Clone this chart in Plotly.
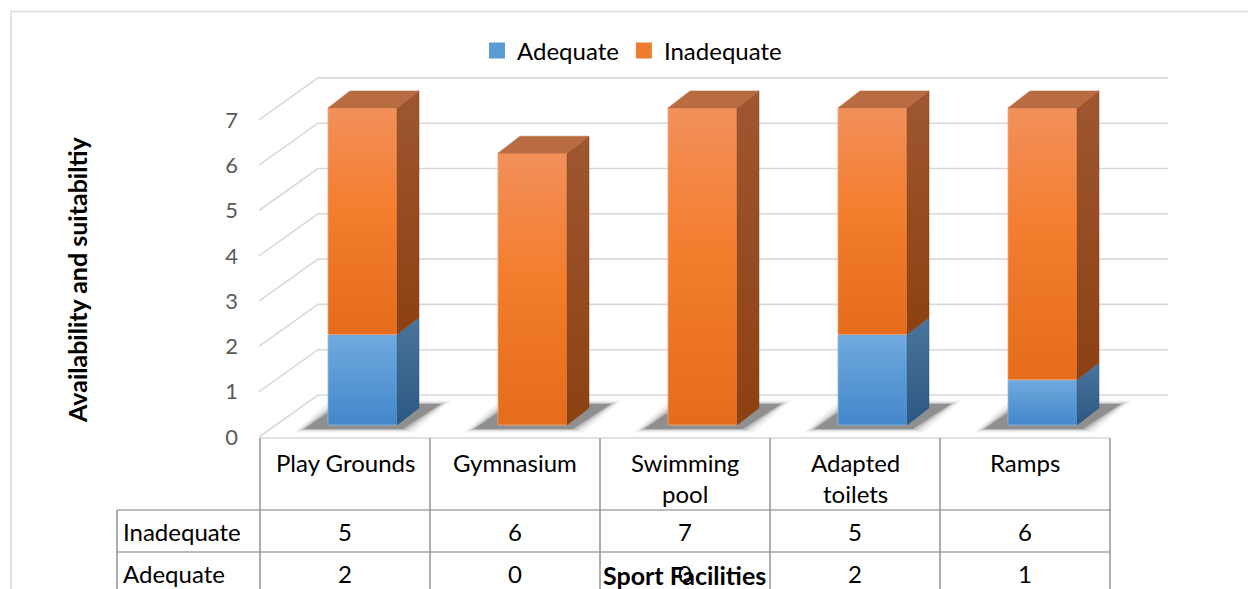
import plotly.graph_objects as go

# ---------------- data ----------------
categories = ["Play Grounds", "Gymnasium", "Swimming pool", "Adapted toilets", "Ramps"]
category_labels = ["Play Grounds", "Gymnasium", "Swimming<br>pool", "Adapted<br>toilets", "Ramps"]
series_names = ["Adequate", "Inadequate"]
adequate = [2, 0, 0, 2, 1]
inadequate = [5, 6, 7, 5, 6]
y_ticks = [0, 1, 2, 3, 4, 5, 6, 7]
x_title = "Sport Facilities"
y_title = "Availability and suitabiltiy"

# ---------------- geometry (pixels of the 3-D frame) ----------------
W, H = 1248, 589
FONT = "Lato"
CAT0_PX, CAT_STEP_PX = 345.0, 170.0      # table column centres
BASE_PY, UNIT_PY = 425.0, 45.3           # bar front plane


def px_to_x(px):
    return (px - CAT0_PX) / CAT_STEP_PX


def dpx(d):
    return d / CAT_STEP_PX


def dpy(d):
    return d / UNIT_PY


def PX(px):
    return px / W


def PY(py):
    return 1 - py / H


X_RANGE = [px_to_x(0), px_to_x(W)]
Y_RANGE = [(BASE_PY - H) / UNIT_PY, BASE_PY / UNIT_PY]
LABEL_PY = 437.0                       # front edge (tick labels)
BACK_PY = 395.0                        # back wall, value 0
BAR_SHIFT = dpx(17.5)
BAR_W = dpx(69)
DEPTH_X = dpx(22)
DEPTH_V = dpy(17)

BLUE = dict(top="#72AADF", mid="#5B9BD5", bottom="#4386CA", edge="#8DBBE6",
            side_top="#4B759D", side_bottom="#2B5883", cap="#5A86B5", legend="#5B9BD5")
ORANGE = dict(top="#F2905B", mid="#F47D2E", bottom="#E46C1B", edge="#F6A676",
              side_top="#9E5731", side_bottom="#8D4112", cap="#B96B41", legend="#ED7D31")
PALETTES = {"Adequate": BLUE, "Inadequate": ORANGE}

fig = go.Figure()

# ---------------- bars (front faces) ----------------
n = len(categories)
bar_x = [i + BAR_SHIFT for i in range(n)]
for name, vals in zip(series_names, [adequate, inadequate]):
    pal = PALETTES[name]
    fig.add_trace(go.Bar(
        x=bar_x, y=vals, width=BAR_W, name=name, legendgroup=name, showlegend=False,
        marker=dict(color=pal["mid"], line=dict(width=0)),
        customdata=categories, hovertemplate="%{customdata}: %{y}<extra>" + name + "</extra>",
    ))

# ---------------- 3-D faces (derived from the same values) ----------------
for i in range(n):
    xl, xr = bar_x[i] - BAR_W / 2, bar_x[i] + BAR_W / 2
    segs = []
    bottom = 0
    for name, vals in zip(series_names, [adequate, inadequate]):
        v = vals[i]
        if v > 0:
            segs.append((bottom, bottom + v, PALETTES[name]))
            bottom += v
    for k, (v0, v1, pal) in enumerate(segs):
        # front face with vertical gradient
        fig.add_trace(go.Scatter(
            x=[xl, xr, xr, xl, xl], y=[v0, v0, v1, v1, v0], mode="lines", fill="toself",
            line=dict(color=pal["edge"], width=0.8),
            fillgradient=dict(type="vertical", start=v0, stop=v1,
                              colorscale=[[0, pal["bottom"]], [0.55, pal["mid"]], [1, pal["top"]]]),
            hoverinfo="skip", showlegend=False))
        # right side face
        fig.add_trace(go.Scatter(
            x=[xr, xr + DEPTH_X, xr + DEPTH_X, xr, xr],
            y=[v0, v0 + DEPTH_V, v1 + DEPTH_V, v1, v0], mode="lines", fill="toself",
            line=dict(color=pal["side_bottom"], width=0.5),
            fillgradient=dict(type="vertical", start=v0, stop=v1 + DEPTH_V,
                              colorscale=[[0, pal["side_bottom"]], [1, pal["side_top"]]]),
            hoverinfo="skip", showlegend=False))
        if k == len(segs) - 1:
            fig.add_trace(go.Scatter(
                x=[xl, xr, xr + DEPTH_X, xl + DEPTH_X, xl],
                y=[v1, v1, v1 + DEPTH_V, v1 + DEPTH_V, v1], mode="lines", fill="toself",
                fillcolor=pal["cap"], line=dict(color=pal["cap"], width=0.5),
                hoverinfo="skip", showlegend=False))

# ---------------- legend entries ----------------
for name in series_names:
    fig.add_trace(go.Scatter(
        x=[None], y=[None], yaxis="y2", mode="markers", name=name, legendgroup=name,
        marker=dict(symbol="square", size=16, color=PALETTES[name]["legend"]),
        hoverinfo="skip"))

shapes = []
# ---------------- back wall gridlines + side-wall diagonals ----------------
x_front, x_back, x_right = px_to_x(259), px_to_x(318), px_to_x(1168)
for v in y_ticks:
    yf = v + (BASE_PY - LABEL_PY) / UNIT_PY
    yb = v + (BASE_PY - BACK_PY) / UNIT_PY
    shapes.append(dict(type="path", xref="x", yref="y", layer="below",
                       path=f"M{x_front},{yf} L{x_back},{yb} L{x_right},{yb}",
                       line=dict(color="#D9D9D9", width=1.6)))

# ---------------- floor shadows (soft, layered) ----------------
for i in range(n):
    xl, xr = bar_x[i] - BAR_W / 2, bar_x[i] + BAR_W / 2
    for grow, op in [(10, 0.07), (6, 0.10), (3, 0.16), (0, 0.30)]:
        pts = [(xl - dpx(24 + grow), dpy(-4 - grow * 0.35)),
               (xr + dpx(6 + grow), dpy(-4 - grow * 0.35)),
               (xr + dpx(44 + grow), dpy(21 + grow * 0.35)),
               (xl + dpx(12 - grow), dpy(21 + grow * 0.35))]
        path = "M" + " L".join(f"{a},{b}" for a, b in pts) + " Z"
        shapes.append(dict(type="path", xref="x", yref="y", layer="below", path=path,
                           fillcolor="#262626", opacity=op, line=dict(width=0)))

# ---------------- data table ----------------
T_TOP, R1, R2, T_BOT = 438, 510, 552, 640
LEFT_PX = 117
shapes.append(dict(type="line", xref="x", yref="paper", x0=-0.5, x1=n - 0.5,
                   y0=PY(T_TOP), y1=PY(T_TOP), line=dict(color="#D9D9D9", width=1.6)))
for r in (R1, R2):
    shapes.append(dict(type="line", xref="paper", yref="paper", x0=PX(LEFT_PX),
                       x1=PX(CAT0_PX + CAT_STEP_PX * (n - 0.5)),
                       y0=PY(r), y1=PY(r), line=dict(color="#A6A6A6", width=1.6)))
for j in range(n + 1):
    shapes.append(dict(type="line", xref="x", yref="paper", x0=j - 0.5, x1=j - 0.5,
                       y0=PY(T_TOP), y1=PY(T_BOT), line=dict(color="#9A9A9A", width=1.6)))
shapes.append(dict(type="line", xref="paper", yref="paper", x0=PX(LEFT_PX), x1=PX(LEFT_PX),
                   y0=PY(R1), y1=PY(T_BOT), line=dict(color="#9A9A9A", width=1.6)))
# chart border
shapes.append(dict(type="rect", xref="paper", yref="paper", x0=PX(11), x1=PX(1260),
                   y0=PY(640), y1=PY(11.5), line=dict(color="#D9D9D9", width=1.5)))

annotations = []
tfont = dict(family=FONT, size=24, color="#000000")
for i, lab in enumerate(category_labels):
    annotations.append(dict(x=i, y=PY(446), xref="x", yref="paper", text=lab, showarrow=False,
                            xanchor="center", yanchor="top", font=tfont))
for row_py, row_name, vals in [((R1 + R2) / 2, "Inadequate", inadequate),
                               ((R2 + 594) / 2, "Adequate", adequate)]:
    annotations.append(dict(x=PX(121), y=PY(row_py), xref="paper", yref="paper", text=row_name,
                            showarrow=False, xanchor="left", yanchor="middle", font=tfont))
    for i, v in enumerate(vals):
        annotations.append(dict(x=i, y=PY(row_py), xref="x", yref="paper", text=str(v),
                                showarrow=False, xanchor="center", yanchor="middle", font=tfont))
annotations.append(dict(x=PX(684), y=PY(575), xref="paper", yref="paper", text=x_title,
                        showarrow=False, xanchor="center", yanchor="middle",
                        font=dict(family=FONT, size=25, color="#000000", weight="bold")))
annotations.append(dict(x=PX(77), y=PY(280), xref="paper", yref="paper", text=y_title, textangle=-90,
                        showarrow=False, xanchor="center", yanchor="middle",
                        font=dict(family=FONT, size=25, color="#000000", weight="bold")))

fig.update_layout(
    width=W, height=H, autosize=False,
    margin=dict(l=0, r=0, t=0, b=0, pad=0),
    paper_bgcolor="white", plot_bgcolor="white",
    barmode="stack",
    xaxis=dict(range=X_RANGE, visible=False, fixedrange=True),
    yaxis=dict(range=Y_RANGE, visible=False, fixedrange=True),
    yaxis2=dict(overlaying="y", anchor="free", position=PX(238), side="left",
                range=[(LABEL_PY - H) / UNIT_PY, LABEL_PY / UNIT_PY], tickvals=y_ticks,
                showgrid=False, zeroline=False, showline=False, ticks="", fixedrange=True,
                tickfont=dict(family=FONT, size=22, color="#595959")),
    legend=dict(orientation="h", x=PX(632), xanchor="center", y=PY(51), yanchor="middle",
                font=dict(family=FONT, size=24, color="#000000"), bgcolor="rgba(0,0,0,0)"),
    shapes=shapes, annotations=annotations,
    showlegend=True,
)

fig.write_html("out.html")
